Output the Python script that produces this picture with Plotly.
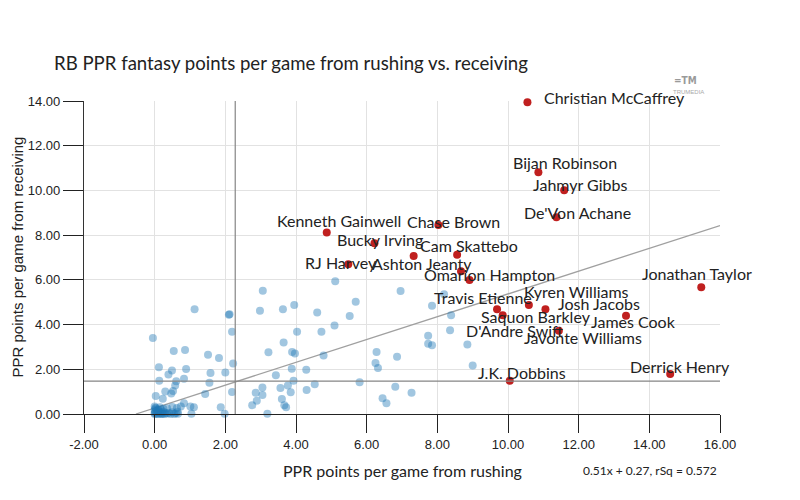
import plotly.graph_objects as go

# ---- data ----
blue_x = [3.06, 1.13, 2.10, 2.12, 2.98, 3.63, 3.95, 2.19, -0.05, 4.03, 3.65, 0.54, 0.86, 1.51, 1.82, 3.22,
          3.89, 3.97, 2.22, 0.12, 0.49, 0.89, 0.39, 1.58, 2.00, 0.13, 0.61, 0.83, 3.43, 3.88, 3.93, 1.55,
          0.58, 0.52, 0.47, 0.30, 0.03, 0.23, 1.43, 2.19, 2.86, 3.05, 3.05, 3.56, 3.77, 3.85, 3.60, 2.89,
          2.76, 3.67, 3.72, 1.87, 1.98, 3.19, 1.04, 1.11, 1.01, 0.83, 0.74, 0.63, 0.50, 0.66, 0.02, 0.18,
          0.35, 0.00,
          5.11, 6.96, 5.69, 4.60, 5.52, 7.85, 8.19, 8.39, 4.72, 5.09, 8.36, 7.74, 7.74, 7.85, 8.85, 6.28,
          4.78, 6.86, 6.25, 6.32, 9.00, 4.29, 5.80, 4.53, 4.30, 6.81, 7.27, 6.45, 6.56,
          0.00, 0.00, 0.02, 0.05, 0.08, 0.10, 0.12, 0.15, 0.18, 0.20, 0.22, 0.25, 0.28, 0.30, 0.35, 0.40,
          0.45, 0.50, 0.55, 0.60, 0.65, 0.00, 0.03, 0.10, 0.15, 0.08, 0.25]
blue_y = [5.51, 4.69, 4.44, 4.46, 4.62, 4.69, 4.87, 3.68, 3.40, 3.68, 3.20, 2.82, 2.86, 2.65, 2.50, 2.76,
          2.77, 2.71, 2.26, 2.09, 1.95, 2.01, 1.77, 1.83, 1.86, 1.49, 1.46, 1.58, 1.73, 2.02, 1.49, 1.40,
          1.28, 1.03, 0.92, 1.01, 0.80, 0.68, 0.89, 0.98, 0.95, 1.19, 0.85, 1.16, 1.28, 0.97, 0.67, 0.59,
          0.39, 0.39, 0.30, 0.30, 0.01, 0.01, 0.01, 0.30, 0.33, 0.48, 0.33, 0.27, 0.31, 0.01, 0.28, 0.20,
          0.26, 0.33,
          5.94, 5.50, 5.02, 4.54, 4.38, 4.84, 5.36, 4.42, 3.68, 3.96, 3.75, 3.50, 3.14, 3.07, 3.11, 2.77,
          2.62, 2.56, 2.28, 2.06, 2.17, 1.98, 1.42, 1.33, 1.07, 1.22, 0.95, 0.71, 0.48,
          0.00, 0.05, 0.10, 0.00, 0.08, 0.00, 0.12, 0.03, 0.00, 0.06, 0.00, 0.10, 0.00, 0.04, 0.02, 0.05,
          0.00, 0.08, 0.00, 0.03, 0.10, 0.18, 0.25, 0.20, 0.30, 0.15, 0.22]

red_names = ["Christian McCaffrey", "Bijan Robinson", "Jahmyr Gibbs", "De'Von Achane", "Kenneth Gainwell",
             "Chase Brown", "Bucky Irving", "Cam Skattebo", "RJ Harvey", "Ashton Jeanty", "Omarion Hampton",
             "Jonathan Taylor", "Travis Etienne", "Kyren Williams", "Josh Jacobs", "Saquon Barkley",
             "D'Andre Swift", "James Cook", "Javonte Williams", "Derrick Henry", "J.K. Dobbins"]
red_x = [10.55, 10.86, 11.59, 11.37, 4.87, 8.03, 6.22, 8.56, 5.48, 7.33, 8.67,
         15.47, 8.91, 10.59, 11.06, 9.69, 9.85, 13.34, 11.44, 14.59, 10.05]
red_y = [13.94, 10.81, 10.01, 8.80, 8.12, 8.45, 7.64, 7.12, 6.70, 7.07, 6.39,
         5.67, 5.99, 4.87, 4.69, 4.68, 4.42, 4.39, 3.72, 1.79, 1.49]
# label offsets (pixels: right, down) from each point
label_dx = [87, 27, 16, 21, 12, 15, 6, 12, -7, 8, 28, -4, 14, 48, 54, 39, 12, 7, 24, 10, 12]
label_dy = [-5, -10, -6, -5, -12, -4, -4, -9, -2, 8, 3, -14, 17, -14, -6, 7, 15, 6, 7, -7, -8]

mean_rush = 2.28
mean_rec = 1.47
reg_slope = 0.51
reg_intercept = 0.27
reg_x = [-0.53, 16.0]
reg_text = "0.51x + 0.27, rSq = 0.572"

x_ticks = [-2, 0, 2, 4, 6, 8, 10, 12, 14, 16]
y_ticks = [0, 2, 4, 6, 8, 10, 12, 14]

# ---- figure ----
fig = go.Figure()

fig.add_trace(go.Scatter(
    x=reg_x, y=[reg_slope * v + reg_intercept for v in reg_x], mode="lines",
    line=dict(color="#a0a0a0", width=1.3), hoverinfo="skip", showlegend=False))

fig.add_trace(go.Scatter(
    x=blue_x, y=blue_y, mode="markers", cliponaxis=False,
    marker=dict(color="rgba(31,119,180,0.42)", size=8, line=dict(width=0)),
    showlegend=False))

fig.add_trace(go.Scatter(
    x=red_x, y=red_y, mode="markers", cliponaxis=False, text=red_names,
    marker=dict(color="#c0201f", size=8, line=dict(width=0)),
    showlegend=False))

label_font = dict(family="Lato", size=16, color="#222")
annotations = []
for n, x, y, dx, dy in zip(red_names, red_x, red_y, label_dx, label_dy):
    annotations.append(dict(x=x, y=y, xref="x", yref="y", text=n, showarrow=False,
                            xanchor="center", yanchor="middle", xshift=dx, yshift=-dy,
                            font=label_font))

annotations += [
    dict(x=-0.0503, y=1.1214, xref="paper", yref="paper", xanchor="left", yanchor="middle",
         text="RB PPR fantasy points per game from rushing vs. receiving", showarrow=False,
         font=dict(family="Lato", size=18.6, color="#222")),
    dict(x=0.5, y=-0.179, xref="paper", yref="paper", xanchor="center", yanchor="middle",
         text="PPR points per game from rushing", showarrow=False,
         font=dict(family="Lato", size=16, color="#222")),
    dict(x=-0.1053, y=0.5, xref="paper", yref="paper", xanchor="center", yanchor="middle",
         text="PPR points per game from receiving", showarrow=False, textangle=-90,
         font=dict(family="Liberation Sans, Arial", size=15, color="#222")),
    dict(x=0.89, y=-0.182, xref="paper", yref="paper", xanchor="center", yanchor="middle",
         text=reg_text, showarrow=False,
         font=dict(family="Lato", size=12, color="#222")),
    dict(x=0.945, y=1.067, xref="paper", yref="paper", xanchor="center", yanchor="middle",
         text="<b>=TM</b>", showarrow=False,
         font=dict(family="DejaVu Sans Condensed", size=10, color="#9a9a9a")),
    dict(x=0.951, y=1.029, xref="paper", yref="paper", xanchor="center", yanchor="middle",
         text="TRUMEDIA", showarrow=False,
         font=dict(family="Liberation Sans", size=6, color="#aaaaaa")),
]

shapes = [
    dict(type="line", xref="x", yref="y", x0=mean_rush, x1=mean_rush, y0=0, y1=14,
         line=dict(color="#858585", width=1.2), layer="above"),
    dict(type="line", xref="x", yref="y", x0=-2, x1=16, y0=mean_rec, y1=mean_rec,
         line=dict(color="#858585", width=1.2), layer="above"),
]

tick_font = dict(family="Liberation Sans Narrow, Arial Narrow, Liberation Sans", size=13, color="#222")

fig.update_layout(
    width=800, height=500,
    margin=dict(l=84, r=80, t=101, b=86, pad=0),
    paper_bgcolor="white", plot_bgcolor="white",
    showlegend=False,
    annotations=annotations,
    shapes=shapes,
    xaxis=dict(range=[-2, 16], tickvals=x_ticks, ticktext=[f"{v:.2f}" for v in x_ticks],
               ticks="outside", ticklen=18,
               tickcolor="#222", showline=True, linecolor="#222", linewidth=1.3,
               showgrid=True, gridcolor="#e2e2e2", gridwidth=1.3, zeroline=False,
               tickfont=tick_font),
    yaxis=dict(range=[0, 14], tickvals=y_ticks, ticktext=[f"{v:.2f}" for v in y_ticks],
               ticks="outside", ticklen=20,
               tickcolor="#222", showline=True, linecolor="#333", linewidth=1.3,
               showgrid=True, gridcolor="#e2e2e2", gridwidth=1.3, zeroline=False,
               tickfont=tick_font),
)

fig.write_html("out.html")
